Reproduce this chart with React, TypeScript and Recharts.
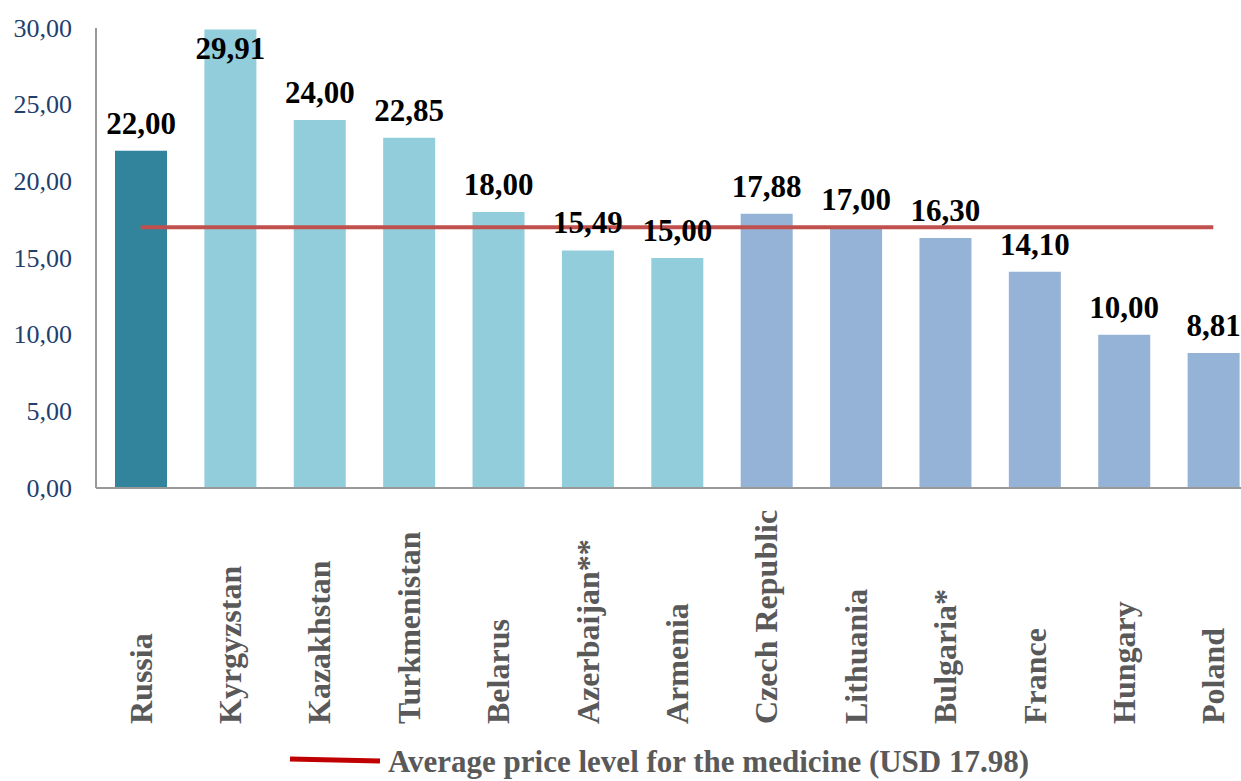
import React from "react";
import {
  ComposedChart,
  Bar,
  Cell,
  Line,
  XAxis,
  YAxis,
  LabelList,
} from "recharts";

const countries = [
  "Russia",
  "Kyrgyzstan",
  "Kazakhstan",
  "Turkmenistan",
  "Belarus",
  "Azerbaijan**",
  "Armenia",
  "Czech Republic",
  "Lithuania",
  "Bulgaria*",
  "France",
  "Hungary",
  "Poland",
];
const prices = [22.0, 29.91, 24.0, 22.85, 18.0, 15.49, 15.0, 17.88, 17.0, 16.3, 14.1, 10.0, 8.81];
const groups = ["ru", "cis", "cis", "cis", "cis", "cis", "cis", "eu", "eu", "eu", "eu", "eu", "eu"];
const avgLevel = [17, 17, 17, 17, 17, 17, 17, 17, 17, 17, 17, 17, 17];
const yTicks = [0, 5, 10, 15, 20, 25, 30];
const legendLabel = "Average price level for the medicine (USD 17.98)";

const groupColors: Record<string, string> = {
  ru: "#31849B",
  cis: "#92CDDC",
  eu: "#95B3D7",
};

const data = countries.map((name, i) => ({
  name,
  price: prices[i],
  group: groups[i],
  avg: avgLevel[i],
}));

const serif = "'Liberation Serif', 'Times New Roman', serif";
const fmt = (v: number) => v.toFixed(2).replace(".", ",");

function YTick(props: any) {
  const { y, payload } = props;
  return (
    <text x={72} y={y} textAnchor="end" dominantBaseline="central" fill="#1F3F6E" fontSize={26} fontFamily={serif}>
      {fmt(payload.value)}
    </text>
  );
}

function XTick(props: any) {
  const { x, payload } = props;
  const by = 724;
  return (
    <text
      x={x}
      y={by}
      transform={`rotate(-90, ${x}, ${by})`}
      textAnchor="start"
      dominantBaseline="central"
      fill="#595959"
      fontSize={32}
      fontWeight="bold"
      fontFamily={serif}
    >
      {payload.value}
    </text>
  );
}

function ValueLabel(props: any) {
  const { x, y, width, value } = props;
  const base = Math.max(y - 17, 59);
  return (
    <text x={x + width / 2} y={base} textAnchor="middle" fill="#000" fontSize={31} fontWeight="bold" fontFamily={serif}>
      {fmt(value)}
    </text>
  );
}

export default function App() {
  return (
    <div
      style={{
        position: "absolute",
        left: 0,
        top: 0,
        width: 1241,
        height: 781,
        overflow: "hidden",
        background: "#fff",
      }}
    >
      <ComposedChart width={1258} height={781} data={data} margin={{ top: 28, right: 0, left: 0, bottom: 0 }}>
        <YAxis
          width={96}
          domain={[0, 30]}
          ticks={yTicks}
          axisLine={{ stroke: "#999", strokeWidth: 2 }}
          tickLine={false}
          tick={<YTick />}
          interval={0}
        />
        <XAxis
          dataKey="name"
          height={293}
          axisLine={{ stroke: "#999", strokeWidth: 2 }}
          tickLine={false}
          tick={<XTick />}
          interval={0}
        />
        <Bar dataKey="price" barSize={52} isAnimationActive={false}>
          {data.map((d, i) => (
            <Cell key={i} fill={groupColors[d.group]} />
          ))}
          <LabelList dataKey="price" content={<ValueLabel />} />
        </Bar>
        <Line dataKey="avg" stroke="#C0504D" strokeWidth={4} dot={false} activeDot={false} isAnimationActive={false} />
      </ComposedChart>
      <svg width={1241} height={781} style={{ position: "absolute", left: 0, top: 0, pointerEvents: "none" }}>
        <line x1={290} y1={759} x2={380} y2={761} stroke="#C00000" strokeWidth={5} />
        <text x={388} y={772} fill="#595959" fontSize={31} fontWeight="bold" fontFamily={serif}>
          {legendLabel}
        </text>
      </svg>
    </div>
  );
}
